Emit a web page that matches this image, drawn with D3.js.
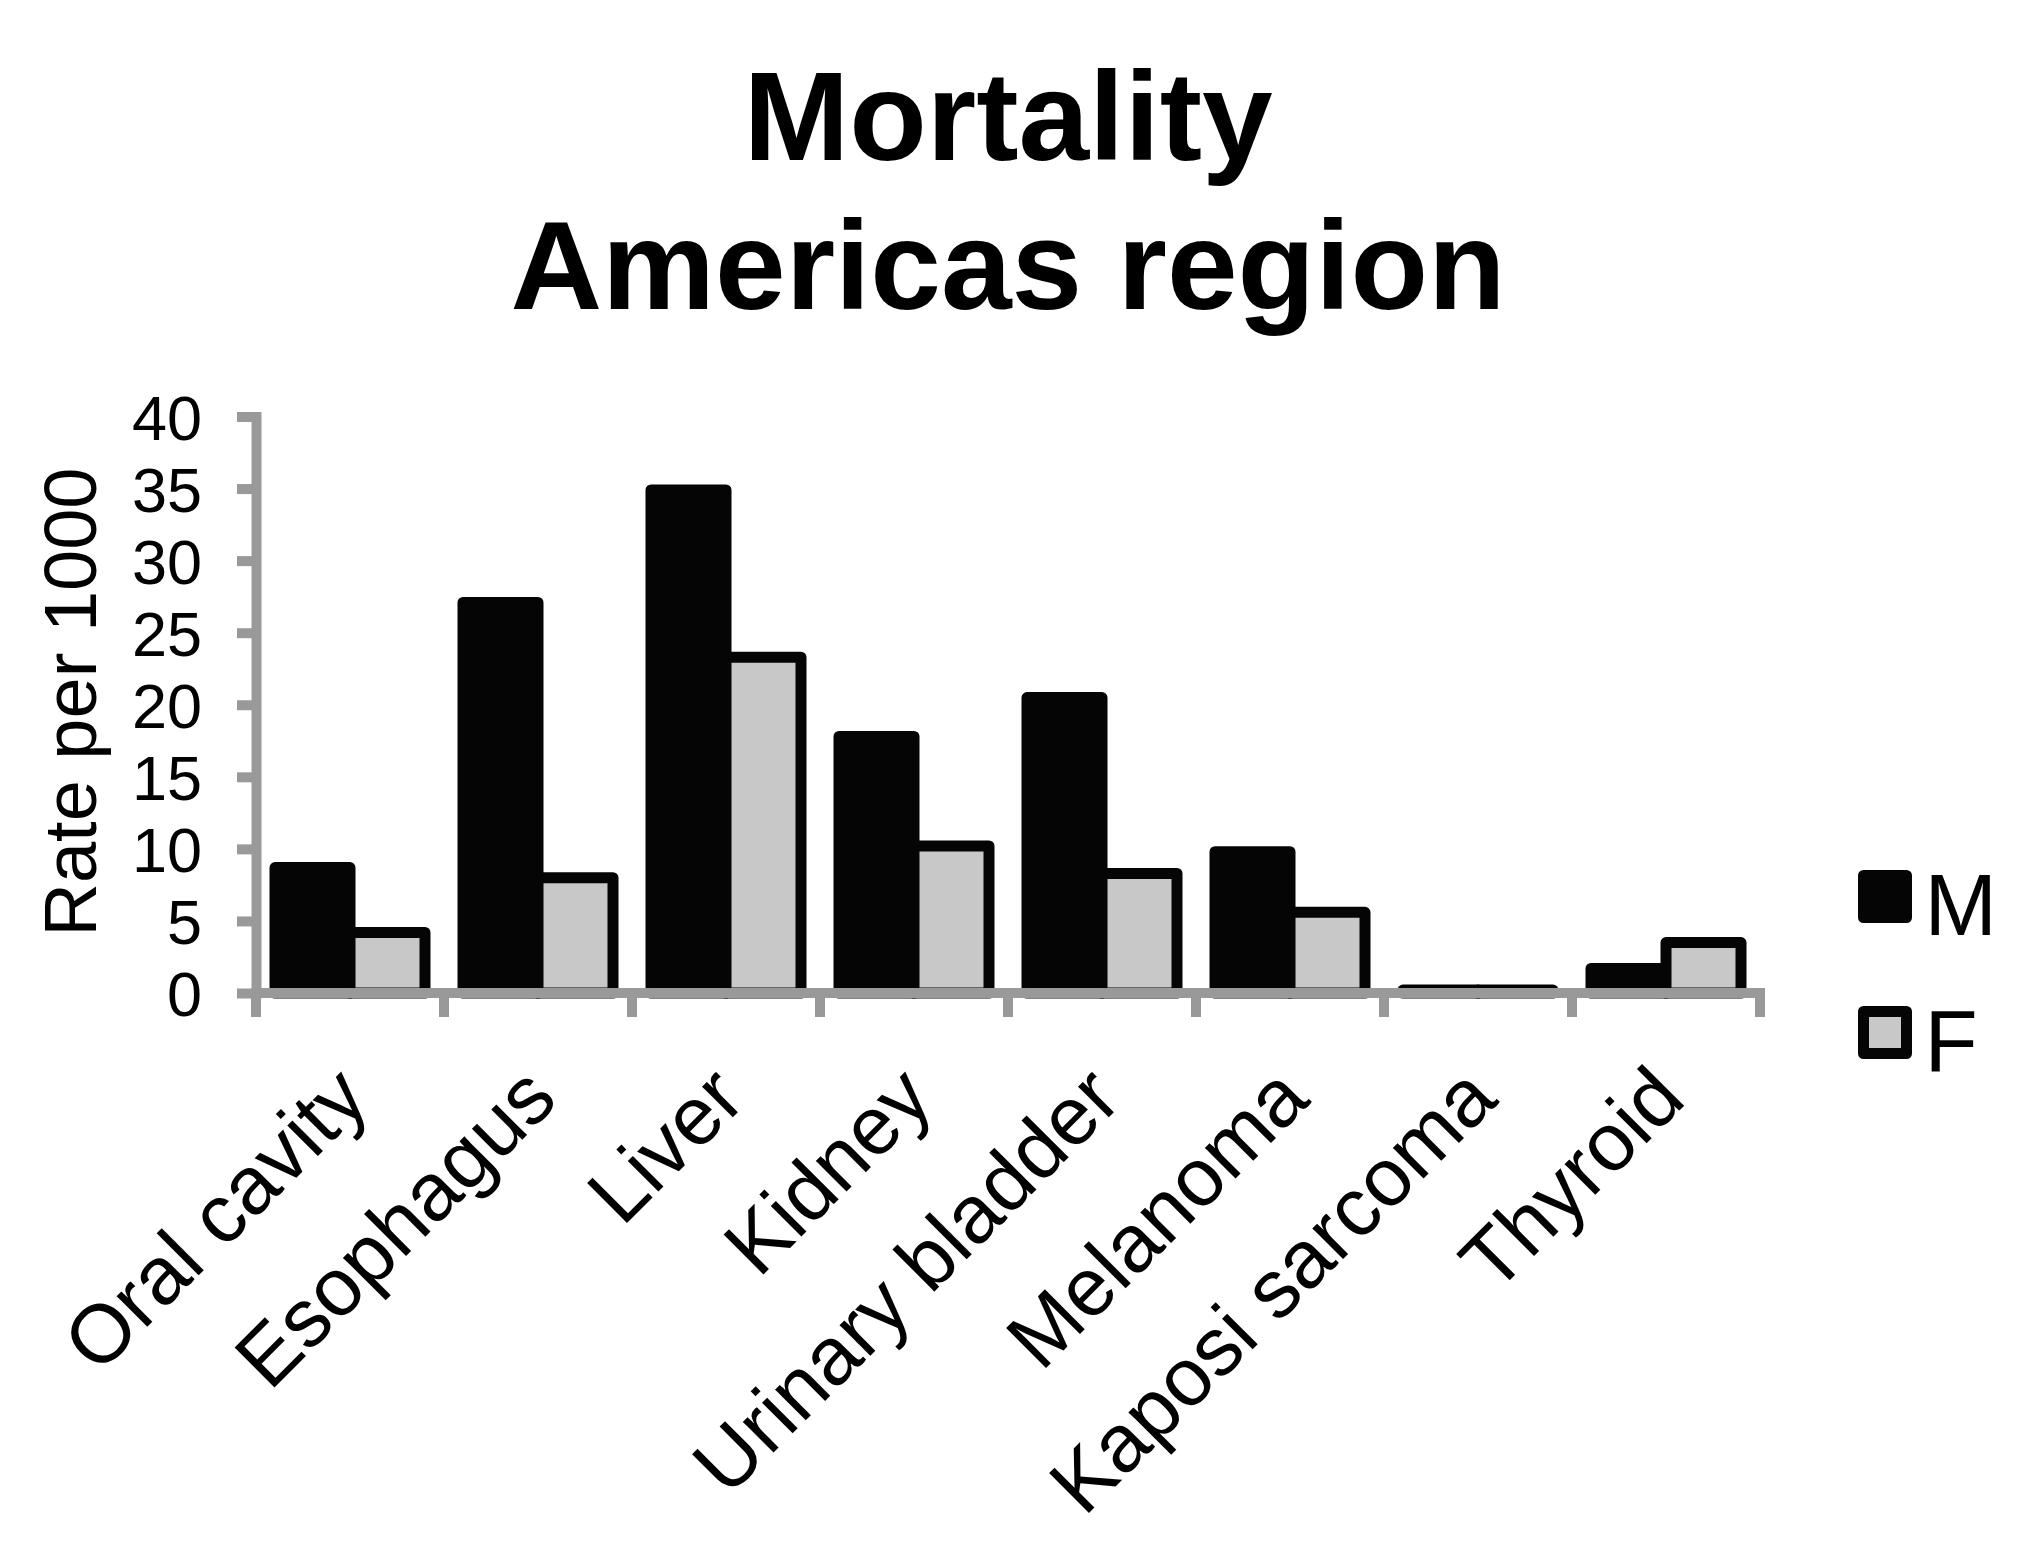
<!DOCTYPE html>
<html>
<head>
<meta charset="utf-8">
<script src="https://cdn.jsdelivr.net/npm/d3@7/dist/d3.min.js"></script>
<style>
  html, body { margin: 0; padding: 0; background: #ffffff; }
  svg { display: block; font-family: "Liberation Sans", Arial, Helvetica, sans-serif; }
</style>
</head>
<body>
<svg id="chart" width="2021" height="1548"></svg>
<script>
// Cancer mortality rates, Americas region, by sex
const categories = ["Oral cavity", "Esophagus", "Liver", "Kidney", "Urinary bladder", "Melanoma", "Kaposi sarcoma", "Thyroid"];
const seriesNames = ["M", "F"];
const maleValues = [8.7, 27.1, 34.9, 17.8, 20.5, 9.8, 0.2, 1.7];
const femaleValues = [4.2, 8.0, 23.3, 10.2, 8.3, 5.6, 0.2, 3.5];
const yTickValues = [0, 5, 10, 15, 20, 25, 30, 35, 40];
const titleLines = ["Mortality", "Americas region"];
const yAxisTitle = "Rate per 1000";

const fills = { M: "#050505", F: "#c8c8c8" };
const axisGray = "#999999";
const barStroke = 11;

const svg = d3.select("#chart");

const plot = { left: 256, right: 1760, top: 416.5, bottom: 993 };

const x = d3.scaleBand().domain(categories).range([plot.left, plot.right]).padding(0);
const xInner = d3.scaleBand().domain(seriesNames).range([19, x.bandwidth() - 19]).padding(0);
const y = d3.scaleLinear().domain([0, 40]).range([plot.bottom, plot.top]);

const rows = categories.map((c, i) => ({ category: c, M: maleValues[i], F: femaleValues[i] }));

// Title
svg.append("g")
  .selectAll("text")
  .data(titleLines)
  .join("text")
  .attr("x", 1008)
  .attr("y", (d, i) => 160 + i * 149)
  .attr("text-anchor", "middle")
  .attr("font-size", 127)
  .attr("font-weight", "bold")
  .attr("fill", "#000")
  .text(d => d);

// Bars
const groups = svg.append("g")
  .selectAll("g")
  .data(rows)
  .join("g")
  .attr("transform", d => `translate(${x(d.category)},0)`);

groups.selectAll("rect")
  .data(d => seriesNames.map(s => ({ key: s, value: d[s] })))
  .join("rect")
  .attr("x", d => xInner(d.key))
  .attr("width", xInner.bandwidth())
  .attr("y", d => y(d.value))
  .attr("height", d => y(0) - y(d.value))
  .attr("fill", d => fills[d.key])
  .attr("stroke", "#050505")
  .attr("stroke-width", barStroke)
  .attr("stroke-linejoin", "round");

// Y axis
const yAxis = svg.append("g")
  .attr("transform", `translate(${plot.left},0)`)
  .call(d3.axisLeft(y).tickValues(yTickValues).tickSize(19).tickSizeOuter(0).tickPadding(35).tickFormat(d3.format("d")));

yAxis.select(".domain")
  .attr("stroke", axisGray)
  .attr("stroke-width", 10)
  .attr("stroke-linecap", "square");
yAxis.selectAll(".tick line")
  .attr("stroke", axisGray)
  .attr("stroke-width", 10);
yAxis.selectAll(".tick text")
  .attr("font-size", 63)
  .attr("font-family", "'Liberation Sans', Arial, sans-serif")
  .attr("fill", "#000")
  .attr("dy", "0.36em");

// X axis: baseline with boundary ticks between categories
const boundaries = categories.map(c => x(c)).concat([x.range()[1]]);
const xAxis = svg.append("g");
xAxis.append("line")
  .attr("x1", plot.left - 5)
  .attr("x2", plot.right + 5)
  .attr("y1", y(0))
  .attr("y2", y(0))
  .attr("stroke", axisGray)
  .attr("stroke-width", 10);
xAxis.selectAll("line.bound")
  .data(boundaries)
  .join("line")
  .attr("class", "bound")
  .attr("x1", d => d)
  .attr("x2", d => d)
  .attr("y1", y(0))
  .attr("y2", y(0) + 24)
  .attr("stroke", axisGray)
  .attr("stroke-width", 10);

// Category labels, rotated
svg.append("g")
  .selectAll("text")
  .data(categories)
  .join("text")
  .attr("transform", d => `translate(${x(d) + x.bandwidth() / 2 + 22},${y(0) + 109}) rotate(-45)`)
  .attr("text-anchor", "end")
  .attr("font-size", 82)
  .attr("fill", "#000")
  .text(d => d);

// Y axis title
svg.append("text")
  .attr("transform", "translate(96,702) rotate(-90)")
  .attr("text-anchor", "middle")
  .attr("font-size", 74)
  .attr("fill", "#000")
  .text(yAxisTitle);

// Legend
const legend = svg.append("g")
  .selectAll("g")
  .data(seriesNames)
  .join("g")
  .attr("transform", (d, i) => `translate(1863.5,${875.5 + i * 136})`);

legend.append("rect")
  .attr("width", 43)
  .attr("height", 42)
  .attr("fill", d => fills[d])
  .attr("stroke", "#050505")
  .attr("stroke-width", barStroke)
  .attr("stroke-linejoin", "round");

legend.append("text")
  .attr("x", 61)
  .attr("y", 59.5)
  .attr("font-size", 87)
  .attr("fill", "#000")
  .text(d => d);
</script>
</body>
</html>
